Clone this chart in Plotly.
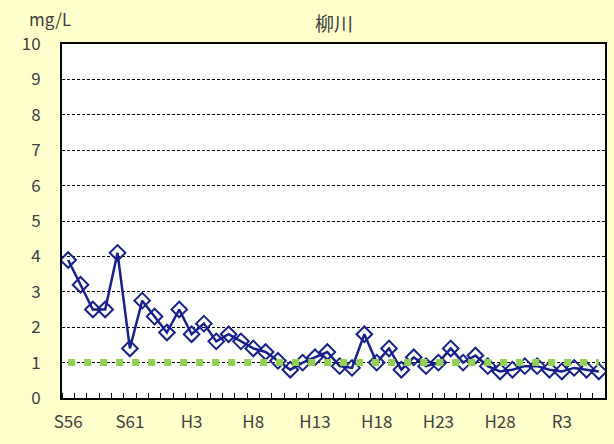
import plotly.graph_objects as go

# fiscal year labels S56 (1981) .. R6 (2024)
years = ["S%d" % y for y in range(56, 64)] + ["H%d" % y for y in range(1, 31)] + ["R%d" % y for y in range(1, 7)]

# BOD annual values, mg/L
bod = [3.9, 3.2, 2.5, 2.5, 4.1, 1.4, 2.75, 2.3, 1.85, 2.5,
       1.8, 2.1, 1.6, 1.8, 1.6, 1.4, 1.3, 1.05, 0.8, 1.0,
       1.15, 1.3, 0.9, 0.85, 1.8, 1.0, 1.4, 0.8, 1.15, 0.9,
       1.0, 1.4, 1.0, 1.2, 0.9, 0.75, 0.8, 0.9, 0.9, 0.8,
       0.75, 0.85, 0.8, 0.75]

# environmental standard
standard = [1.0] * len(years)

label_years = years[::5]

idx = list(range(len(years)))

fig = go.Figure()
fig.add_trace(go.Scatter(
    x=idx, y=bod, mode="lines+markers", name="BOD",
    line=dict(color="#18208C", width=2.5),
    marker=dict(symbol="diamond-open", size=12, color="#18208C", line=dict(width=2)),
))
fig.add_trace(go.Scatter(
    x=idx, y=standard, mode="lines", name="基準",
    line=dict(color="#92D050", width=7, dash="7px,9px"),
))

fig.update_layout(
    width=614, height=444,
    paper_bgcolor="#FFFFCC", plot_bgcolor="white",
    margin=dict(l=62, r=7, t=44, b=46),
    showlegend=False,
    font=dict(family="Noto Sans CJK JP", color="#404040", size=16),
    annotations=[
        dict(text="柳川", xref="paper", yref="paper", x=0.5, y=1.062,
             xanchor="center", yanchor="middle",
             showarrow=False, font=dict(size=19, color="#404040")),
        dict(text="mg/L", xref="paper", yref="paper", x=-0.022, y=1.073,
             xanchor="center", yanchor="middle",
             showarrow=False, font=dict(size=17, color="#404040")),
    ],
)
fig.update_xaxes(
    range=[-0.5, len(years) - 0.5],
    tickmode="array",
    tickvals=[years.index(t) for t in label_years],
    ticktext=label_years,
    ticks="", ticklabelstandoff=8,
    showgrid=False, zeroline=False,
    showline=True, linecolor="black", linewidth=2, mirror=True,
    minor=dict(tick0=0.5, dtick=1, ticks="inside", ticklen=5, tickcolor="black", tickwidth=1, showgrid=False),
    tickfont=dict(size=17),
)
fig.update_yaxes(
    range=[0, 10], dtick=1,
    ticks="", ticklabelstandoff=16,
    showgrid=True, gridcolor="black", gridwidth=1, griddash="3px,2px",
    zeroline=False,
    showline=True, linecolor="black", linewidth=2, mirror=True,
    tickfont=dict(size=17),
)

fig.write_html("out.html", config={"displayModeBar": False},
               post_script="document.body.style.margin='0';")
